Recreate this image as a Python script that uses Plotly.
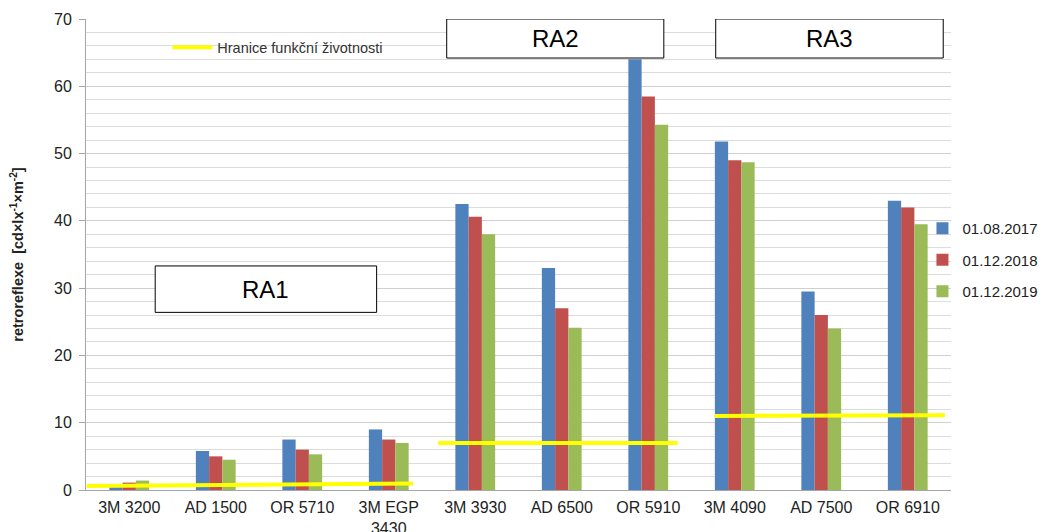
import plotly.graph_objects as go

categories = ["3M 3200", "AD 1500", "OR 5710", "3M EGP<br>3430", "3M 3930",
              "AD 6500", "OR 5910", "3M 4090", "AD 7500", "OR 6910"]
series_names = ["01.08.2017", "01.12.2018", "01.12.2019"]
vals_2017 = [0.8, 5.8, 7.5, 9.0, 42.5, 33.0, 64.0, 51.8, 29.5, 43.0]
vals_2018 = [1.1, 5.0, 6.0, 7.5, 40.6, 27.0, 58.5, 49.0, 26.0, 42.0]
vals_2019 = [1.4, 4.5, 5.3, 7.0, 38.0, 24.1, 54.3, 48.7, 24.0, 39.5]
colors = ["#4F81BD", "#C0504D", "#9BBB59"]

# functional-life limit lines (start/end in category index units, values)
limit_x_start = [-0.49, 3.57, 6.77]
limit_x_end = [3.28, 6.34, 9.43]
limit_y_start = [0.6, 7.0, 11.0]
limit_y_end = [0.95, 7.0, 11.1]
limit_name = "Hranice funkční životnosti"

# class boxes
box_labels = ["RA1", "RA2", "RA3"]
box_x0 = [0.30, 3.67, 6.78]
box_x1 = [2.86, 6.18, 9.41]
box_y0 = [26.4, 64.2, 64.2]
box_y1 = [33.3, 70.0, 70.0]

fig = go.Figure()
for name, vals, c in zip(series_names, [vals_2017, vals_2018, vals_2019], colors):
    fig.add_trace(go.Bar(x=list(range(len(categories))), y=vals, name=name,
                         marker=dict(color=c, line=dict(width=0)),
                         legend="legend", legendgroup=name))

lx, ly = [], []
for a, b, ya, yb in zip(limit_x_start, limit_x_end, limit_y_start, limit_y_end):
    lx += [a, b, None]
    ly += [ya, yb, None]
fig.add_trace(go.Scatter(x=lx, y=ly, mode="lines", name=limit_name,
                         line=dict(color="#FFFF00", width=4),
                         legend="legend2", connectgaps=False))

for lab, x0, x1, y0, y1 in zip(box_labels, box_x0, box_x1, box_y0, box_y1):
    fig.add_shape(type="rect", xref="x", yref="y", x0=x0, x1=x1, y0=y0, y1=y1,
                  line=dict(color="black", width=1), fillcolor="white", layer="above")
    fig.add_annotation(x=(x0 + x1) / 2, y=(y0 + y1) / 2, text=lab, showarrow=False,
                       font=dict(size=24, color="black", family="Liberation Sans"))

fig.update_layout(
    width=1042, height=524,
    margin=dict(l=78, r=99, t=11, b=42, autoexpand=False),
    paper_bgcolor="white", plot_bgcolor="white",
    barmode="group", bargap=0.54, bargroupgap=0,
    font=dict(family="Liberation Sans", color="#222"),
    legend=dict(x=0.967, xanchor="left", y=0.59, yanchor="top",
                font=dict(size=15, color="#222"), tracegroupgap=9,
                itemwidth=30, bgcolor="rgba(0,0,0,0)"),
    legend2=dict(x=0.094, xanchor="left", y=0.974, yanchor="top",
                 font=dict(size=14.5, color="#333"), bgcolor="rgba(0,0,0,0)",
                 itemwidth=40),
)
fig.update_xaxes(
    range=[-0.5, 9.5], tickmode="array", tickvals=list(range(len(categories))),
    ticktext=categories, tickfont=dict(size=16, color="#222"),
    showline=True, linecolor="#A6A6A6", linewidth=1, showgrid=False, ticks="",
    ticklabelstandoff=3,
)
fig.update_yaxes(
    range=[0, 70], dtick=10, tick0=0, tickfont=dict(size=16, color="#222"),
    showline=True, linecolor="#A6A6A6", linewidth=1,
    ticks="outside", ticklen=6, tickcolor="#A6A6A6", ticklabelstandoff=4,
    showgrid=True, gridcolor="#D0D0D0", gridwidth=1,
    minor=dict(dtick=2, showgrid=True, gridcolor="#DCDCDC", gridwidth=1),
    title=dict(text="<b>retroreflexe  [cd×lx<sup>-1</sup>×m<sup>-2</sup>]</b>",
               font=dict(size=14.5, color="#222"), standoff=26),
    zeroline=False,
)
fig.write_html("out.html")
